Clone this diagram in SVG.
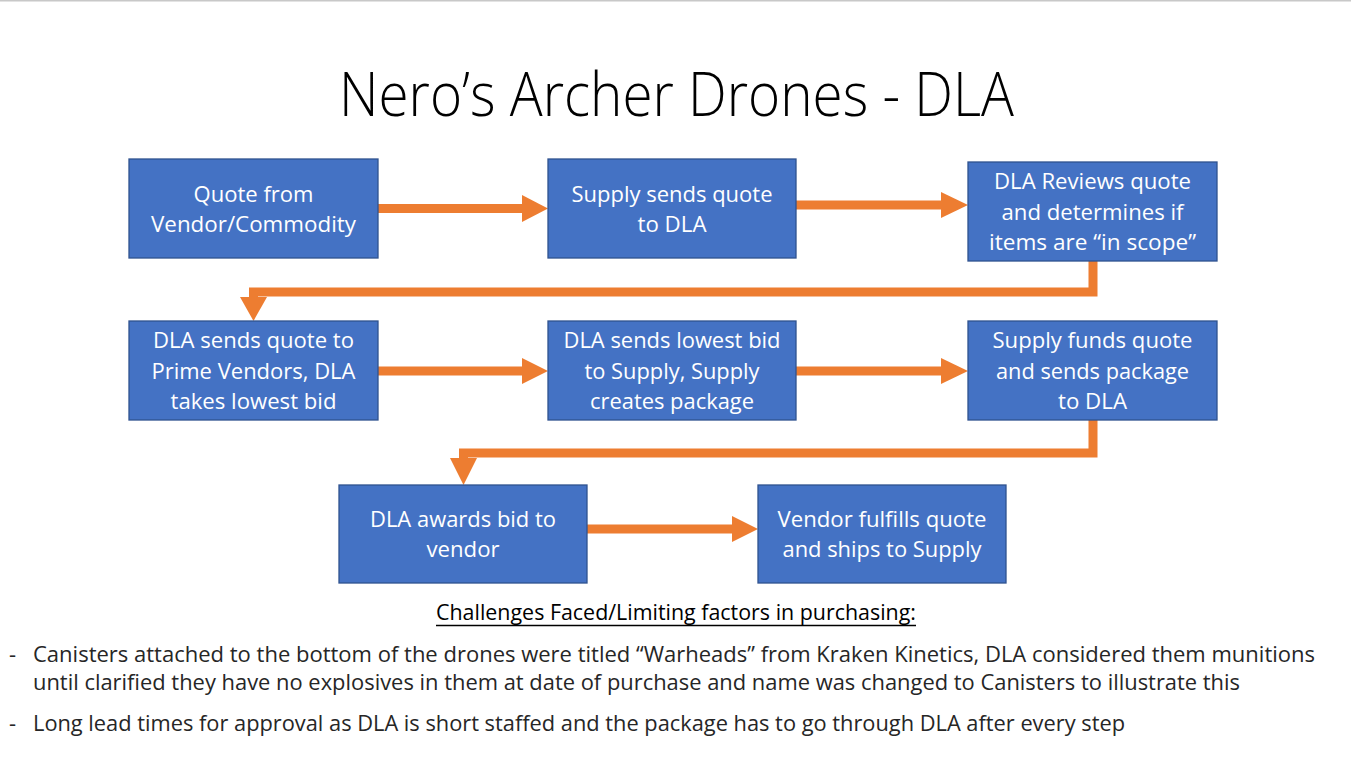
<svg xmlns="http://www.w3.org/2000/svg" width="1351" height="767" viewBox="0 0 1351 767">
<style>
.box{fill:#4472C4;stroke:#2F528F;stroke-width:1.3}
.bt{font-family:"Open Sans","Noto Sans","Liberation Sans",sans-serif;font-size:21.5px;fill:#ffffff;text-anchor:middle}
.line{fill:none;stroke:#ED7D31;stroke-width:9;stroke-linejoin:miter}
.head{fill:#ED7D31}
.title{font-family:"Open Sans","Noto Sans","Liberation Sans",sans-serif;font-weight:300;font-size:60px;fill:#000000}
.ch{font-family:"Open Sans","Noto Sans","Liberation Sans",sans-serif;font-size:21px;fill:#000000}
.bl{font-family:"Open Sans","Noto Sans","Liberation Sans",sans-serif;font-weight:400;font-size:22px;fill:#262626}
</style>
<rect x="0" y="0" width="1351" height="767" fill="#ffffff"/>
<rect x="0" y="0" width="1351" height="1.5" fill="#c8c8c8"/>
<text class="title" x="339" y="116" textLength="675" lengthAdjust="spacingAndGlyphs">Nero’s Archer Drones - DLA</text>
<g id="connectors">
<line class="line" x1="378" y1="208.5" x2="523" y2="208.5"/>
<polygon class="head" points="522,195 548,208.5 522,222"/>
<line class="line" x1="796" y1="205" x2="942" y2="205"/>
<polygon class="head" points="941,192 968,205 941,218"/>
<path class="line" d="M1093 261 V292 H253.5 V298"/>
<polygon class="head" points="240,297 267,297 253.5,321"/>
<line class="line" x1="378" y1="371" x2="523" y2="371"/>
<polygon class="head" points="522,358 548,371 522,384"/>
<line class="line" x1="796" y1="371" x2="942" y2="371"/>
<polygon class="head" points="941,358 968,371 941,384"/>
<path class="line" d="M1093 420 V453 H463.5 V459"/>
<polygon class="head" points="450,458 477,458 463.5,485"/>
<line class="line" x1="587" y1="529" x2="733" y2="529"/>
<polygon class="head" points="732,516 758,529 732,542"/>
</g>
<g id="n1">
<rect class="box" x="129" y="159" width="249" height="99"/>
<text class="bt" x="253.5" y="202" textLength="120" lengthAdjust="spacingAndGlyphs">Quote from</text>
<text class="bt" x="253.5" y="232" textLength="205" lengthAdjust="spacingAndGlyphs">Vendor/Commodity</text>
</g>
<g id="n2">
<rect class="box" x="548" y="159" width="248" height="99"/>
<text class="bt" x="672" y="202" textLength="201" lengthAdjust="spacingAndGlyphs">Supply sends quote</text>
<text class="bt" x="672" y="232" textLength="69" lengthAdjust="spacingAndGlyphs">to DLA</text>
</g>
<g id="n3">
<rect class="box" x="968" y="162" width="249" height="99"/>
<text class="bt" x="1092.5" y="189" textLength="197" lengthAdjust="spacingAndGlyphs">DLA Reviews quote</text>
<text class="bt" x="1092.5" y="219.5" textLength="182" lengthAdjust="spacingAndGlyphs">and determines if</text>
<text class="bt" x="1092.5" y="250" textLength="207" lengthAdjust="spacingAndGlyphs">items are “in scope”</text>
</g>
<g id="n4">
<rect class="box" x="129" y="321" width="249" height="99"/>
<text class="bt" x="253.5" y="348" textLength="201" lengthAdjust="spacingAndGlyphs">DLA sends quote to</text>
<text class="bt" x="253.5" y="378.5" textLength="204" lengthAdjust="spacingAndGlyphs">Prime Vendors, DLA</text>
<text class="bt" x="253.5" y="409" textLength="166" lengthAdjust="spacingAndGlyphs">takes lowest bid</text>
</g>
<g id="n5">
<rect class="box" x="548" y="321" width="248" height="99"/>
<text class="bt" x="672" y="348" textLength="217" lengthAdjust="spacingAndGlyphs">DLA sends lowest bid</text>
<text class="bt" x="672" y="378.5" textLength="175" lengthAdjust="spacingAndGlyphs">to Supply, Supply</text>
<text class="bt" x="672" y="409" textLength="164" lengthAdjust="spacingAndGlyphs">creates package</text>
</g>
<g id="n6">
<rect class="box" x="968" y="321" width="249" height="99"/>
<text class="bt" x="1092.5" y="348" textLength="200" lengthAdjust="spacingAndGlyphs">Supply funds quote</text>
<text class="bt" x="1092.5" y="378.5" textLength="193" lengthAdjust="spacingAndGlyphs">and sends package</text>
<text class="bt" x="1092.5" y="409" textLength="69" lengthAdjust="spacingAndGlyphs">to DLA</text>
</g>
<g id="n7">
<rect class="box" x="339" y="485" width="248" height="98"/>
<text class="bt" x="463" y="527" textLength="186" lengthAdjust="spacingAndGlyphs">DLA awards bid to</text>
<text class="bt" x="463" y="557" textLength="73" lengthAdjust="spacingAndGlyphs">vendor</text>
</g>
<g id="n8">
<rect class="box" x="758" y="485" width="248" height="98"/>
<text class="bt" x="882" y="527" textLength="209" lengthAdjust="spacingAndGlyphs">Vendor fulfills quote</text>
<text class="bt" x="882" y="557" textLength="199" lengthAdjust="spacingAndGlyphs">and ships to Supply</text>
</g>
<g id="notes">
<text class="ch" x="436" y="620" textLength="480" lengthAdjust="spacingAndGlyphs">Challenges Faced/Limiting factors in purchasing:</text>
<line x1="436" y1="625.5" x2="916" y2="625.5" stroke="#000000" stroke-width="1.3"/>
<text class="bl" x="9" y="662">-</text>
<text class="bl" x="33" y="662" textLength="1282" lengthAdjust="spacingAndGlyphs">Canisters attached to the bottom of the drones were titled “Warheads” from Kraken Kinetics, DLA considered them munitions</text>
<text class="bl" x="33" y="690" textLength="1207" lengthAdjust="spacingAndGlyphs">until clarified they have no explosives in them at date of purchase and name was changed to Canisters to illustrate this</text>
<text class="bl" x="9" y="731">-</text>
<text class="bl" x="33" y="731" textLength="1092" lengthAdjust="spacingAndGlyphs">Long lead times for approval as DLA is short staffed and the package has to go through DLA after every step</text>
</g>
</svg>
